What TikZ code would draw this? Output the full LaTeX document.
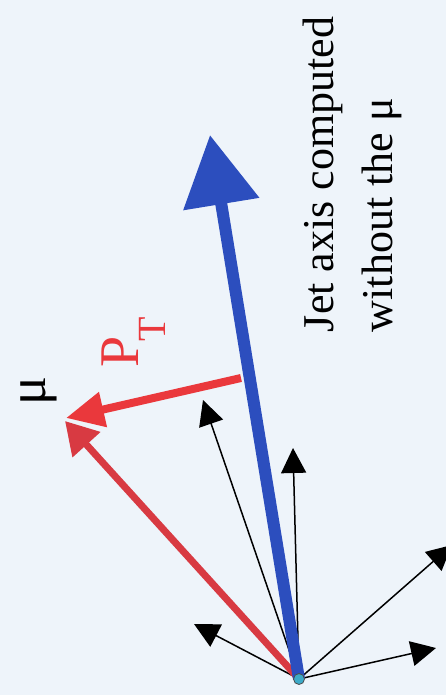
\documentclass[tikz,border=0pt]{standalone}
\usepackage{fontspec}
\setmainfont{Liberation Serif}
\usetikzlibrary{arrows.meta}
\definecolor{bgc}{RGB}{238,244,250}
\definecolor{jetblue}{RGB}{44,78,190}
\definecolor{mured}{RGB}{216,58,66}
\definecolor{ptred}{RGB}{234,56,60}
\definecolor{dotc}{RGB}{60,170,200}
\tikzset{
  track/.style={line width=1.5pt, black, -{Triangle[length=25pt,width=25pt]}},
  jetarrow/.style={line width=12pt, jetblue, -{Triangle[length=70pt,width=74pt]}},
  muarrow/.style={line width=7pt, mured, -{Triangle[length=32pt,width=36pt]}},
  ptarrow/.style={line width=8pt, ptred, -{Triangle[length=38pt,width=34pt]}},
  vtext/.style={rotate=90, anchor=base west, inner sep=0pt, outer sep=0pt},
}
\begin{document}
\begin{tikzpicture}[x=1pt,y=-1pt]
\useasboundingbox (0,0) rectangle (446,695);
\clip (0,0) rectangle (446,695);
\fill[bgc] (0,0) rectangle (446,695);
\coordinate (O) at (299,679);
\coordinate (mutip) at (65,421);
\coordinate (ptstart) at (241,378);
\coordinate (pttip) at (66,418);
\coordinate (jettip) at (210,135);
\coordinate (t1) at (203,400);
\coordinate (t2) at (293,448);
\coordinate (t3) at (452,545);
\coordinate (t4) at (436,648);
\coordinate (t5) at (194,624);
\draw[track] (O) -- (t1);
\draw[track] (O) -- (t2);
\draw[track] (O) -- (t3);
\draw[track] (O) -- (t4);
\draw[track] (O) -- (t5);
\draw[muarrow] (O) -- (mutip);
\draw[ptarrow] (ptstart) -- (pttip);
\draw[jetarrow] (O) -- (jettip);
\node[circle, fill=dotc, draw=black!70, line width=0.8pt, minimum size=11pt, inner sep=0pt] (dot) at (O) {};
\node[vtext] (line1) at (333,332) {\fontsize{44}{50}\selectfont Jet axis computed};
\node[vtext] (line2) at (392,332) {\fontsize{44}{50}\selectfont without the μ};
\node[vtext, text=ptred] (P) at (138,367) {\fontsize{56}{60}\selectfont P};
\node[vtext, text=ptred] (T) at (165,341) {\fontsize{40}{44}\selectfont T};
\node[vtext] (mu) at (45,405) {\fontsize{54}{60}\selectfont μ};
\end{tikzpicture}
\end{document}
